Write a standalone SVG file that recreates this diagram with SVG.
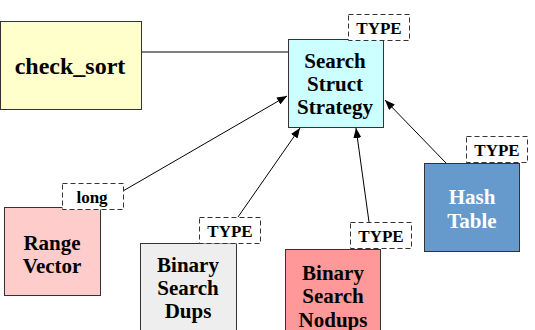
<svg xmlns="http://www.w3.org/2000/svg" width="535" height="330" viewBox="0 0 535 330">
<defs>
<marker id="ah" viewBox="0 0 10 8" refX="10" refY="4" markerWidth="10" markerHeight="8" markerUnits="userSpaceOnUse" orient="auto">
<path d="M0,0 L10,4 L0,8 Z" fill="#000"/>
</marker>
</defs>
<style>
.box{stroke:#333;stroke-width:1}
text{font-family:'Liberation Serif','Times New Roman','DejaVu Serif',serif;font-weight:bold;text-anchor:middle;fill:#000}
.t{font-size:21px}
.big{font-size:24px}
.w{fill:#fff}
.lbl{fill:#fff;stroke:#333;stroke-width:1;stroke-dasharray:5,3}
.lt{font-size:17px}
.c{stroke:#000;stroke-width:1;fill:none}
</style>
<g id="connectors">
<line class="c" x1="141" y1="52" x2="288" y2="52"/>
<line class="c" x1="123" y1="191" x2="287" y2="96" marker-end="url(#ah)"/>
<line class="c" x1="238" y1="217" x2="300" y2="128" marker-end="url(#ah)"/>
<line class="c" x1="369" y1="222" x2="356" y2="128" marker-end="url(#ah)"/>
<line class="c" x1="446" y1="163" x2="385" y2="100" marker-end="url(#ah)"/>
</g>
<g id="check_sort">
<rect class="box" x="0.5" y="21.5" width="141" height="88" fill="#ffffcc"/>
<text class="big" x="70" y="74">check_sort</text>
</g>
<g id="search_struct_strategy">
<rect class="box" x="288.5" y="39.5" width="95" height="88" fill="#ccffff"/>
<text class="t" x="335" y="68">Search</text>
<text class="t" x="335" y="91">Struct</text>
<text class="t" x="335" y="114">Strategy</text>
<rect class="lbl" x="348.5" y="14.5" width="61" height="26"/>
<text class="lt" x="379" y="34">TYPE</text>
</g>
<g id="range_vector">
<rect class="box" x="4.5" y="207.5" width="96" height="88" fill="#ffcccc"/>
<text class="t" x="52" y="250">Range</text>
<text class="t" x="52" y="273">Vector</text>
<rect class="lbl" x="62.5" y="183.5" width="61" height="26"/>
<text class="lt" x="92" y="203">long</text>
</g>
<g id="binary_search_dups">
<rect class="box" x="140.5" y="243.5" width="96" height="95" fill="#eeeeee"/>
<text class="t" x="188" y="272">Binary</text>
<text class="t" x="188" y="295">Search</text>
<text class="t" x="188" y="318">Dups</text>
<rect class="lbl" x="199.5" y="217.5" width="61" height="26"/>
<text class="lt" x="230" y="237">TYPE</text>
</g>
<g id="binary_search_nodups">
<rect class="box" x="285.5" y="249.5" width="95" height="95" fill="#ff9999"/>
<text class="t" x="333" y="280">Binary</text>
<text class="t" x="333" y="303">Search</text>
<text class="t" x="333" y="327">Nodups</text>
<rect class="lbl" x="350.5" y="222.5" width="61" height="26"/>
<text class="lt" x="381" y="242">TYPE</text>
</g>
<g id="hash_table">
<rect class="box" x="424.5" y="163.5" width="95" height="88" fill="#6699cc"/>
<text class="t w" x="472" y="204">Hash</text>
<text class="t w" x="472" y="228">Table</text>
<rect class="lbl" x="466.5" y="136.5" width="61" height="26"/>
<text class="lt" x="497" y="156">TYPE</text>
</g>
</svg>
